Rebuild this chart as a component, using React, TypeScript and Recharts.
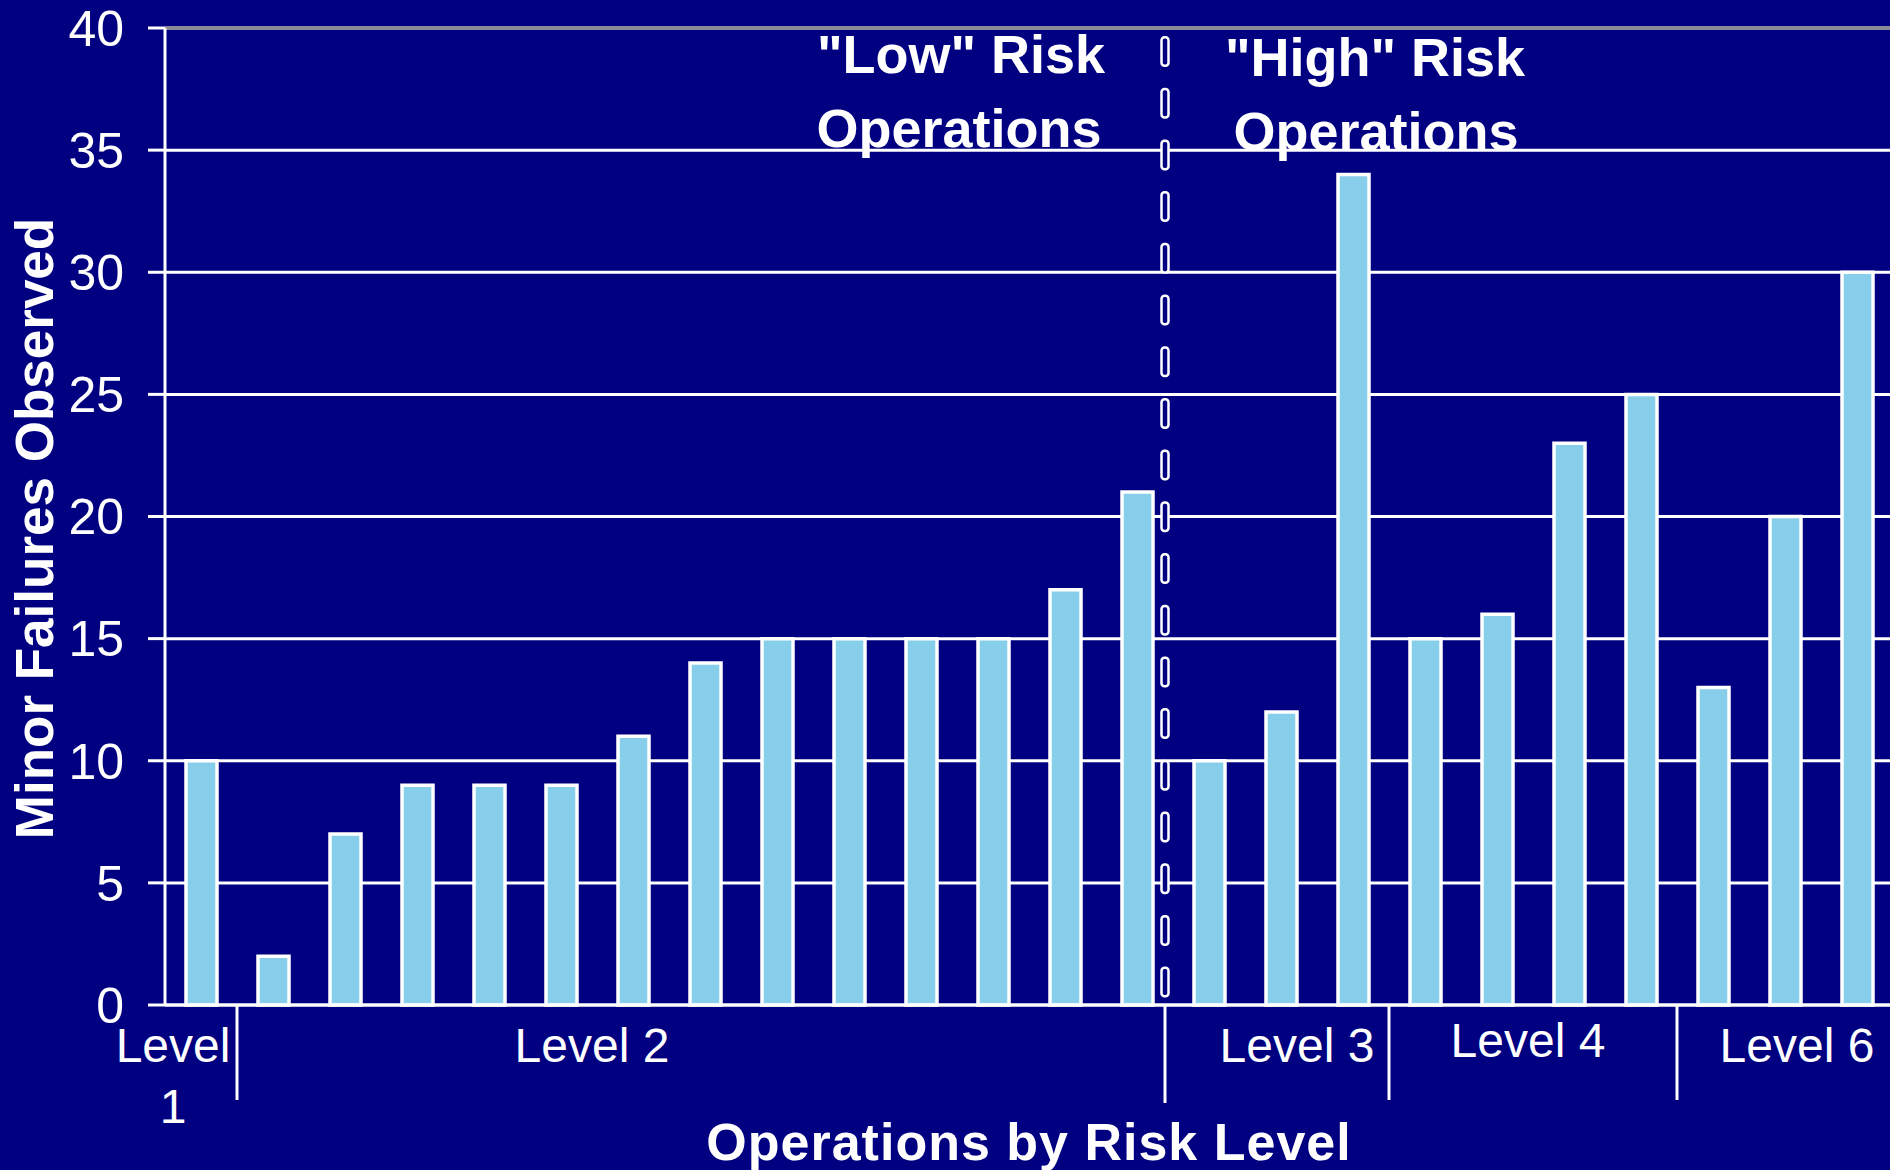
import { BarChart, Bar, XAxis, YAxis, CartesianGrid, ReferenceLine, Label } from "recharts"

// failures observed per operation, grouped by risk level
const LEVEL_1 = [10]
const LEVEL_2 = [2, 7, 9, 9, 9, 11, 14, 15, 15, 15, 15, 17, 21]
const LEVEL_3 = [10, 12, 34]
const LEVEL_4 = [15, 16, 23, 25]
const LEVEL_6 = [13, 20, 30]

const LEVEL_NAMES = ["Level 1", "Level 2", "Level 3", "Level 4", "Level 6"]
const LEVEL_RISK = ["Low", "Low", "High", "High", "High"]
const LEVEL_VALUES = [LEVEL_1, LEVEL_2, LEVEL_3, LEVEL_4, LEVEL_6]
const Y_TICKS = [0, 5, 10, 15, 20, 25, 30, 35, 40]

const data = LEVEL_VALUES.flatMap((vals, g) =>
  vals.map((v) => ({ level: LEVEL_NAMES[g], risk: LEVEL_RISK[g], failures: v }))
).map((d, i) => ({ ...d, id: `op${i + 1}` }))

const firstHigh = data.findIndex((d) => d.risk === "High")

const NAVY = "#000080"
const SKY = "#87CEEB"
const WHITE = "#FFFFFF"
const GREY = "#8C8C8C"
const FONT = "'Liberation Sans', Arial, Helvetica, sans-serif"

const W = 1893
const H = 1170
const TOP = 28
const AXIS_W = 165
const AXIS_H = 165
const BAND = (W - AXIS_W) / data.length
const SPLIT_SHIFT = -8

// hand-placed group labels under the axis
const LABEL_NUDGE: Record<string, [number, number]> = {
  "Level 1": [-28, 0],
  "Level 2": [-113, 0],
  "Level 3": [16, 0],
  "Level 4": [-5, -5],
  "Level 6": [12, 0],
}

function LevelTick({ x, y, payload }: any) {
  const i = data.findIndex((d) => d.id === payload.value)
  if (i < 0) return <g />
  const level = data[i].level
  const first = data.findIndex((d) => d.level === level)
  if (i !== first) return <g />
  const size = data.filter((d) => d.level === level).length
  const split = i > 0 && data[i - 1].risk !== data[i].risk
  const edge = x - BAND / 2 + (split ? SPLIT_SHIFT : 0)
  const [dx, dy] = LABEL_NUDGE[level] ?? [0, 0]
  const cx = x + ((size - 1) / 2) * BAND + dx
  const lines = size === 1 ? level.split(" ") : [level]
  return (
    <g>
      {i > 0 && (
        <line x1={edge} x2={edge} y1={y} y2={y + (split ? 98 : 95)} stroke={WHITE} strokeWidth={3} />
      )}
      <text x={cx} y={y + 57 + dy} textAnchor="middle" fill={WHITE} fontSize={48} fontFamily={FONT}>
        {lines.map((t, k) => (
          <tspan key={k} x={cx} dy={k === 0 ? 0 : 61}>
            {t}
          </tspan>
        ))}
      </text>
    </g>
  )
}

function RiskSplit(props: any) {
  const { x1, y1, y2 } = props
  const cx = x1 + SPLIT_SHIFT
  const top = Math.min(y1, y2)
  const bottom = Math.max(y1, y2)
  const dashes: number[] = []
  for (let y = top + 8; y + 31 <= bottom - 4; y += 51.7) dashes.push(y)
  const head = { fill: WHITE, fontSize: 54, fontWeight: 700, fontFamily: FONT, textAnchor: "middle" as const }
  return (
    <g>
      {dashes.map((y, k) => (
        <rect key={k} x={cx - 3.5} y={y + 1.25} width={7} height={28.5} rx={3}
          fill={NAVY} stroke={WHITE} strokeWidth={2.5} />
      ))}
      <text {...head} x={cx - 204} y={top + 45}>"Low" Risk</text>
      <text {...head} x={cx - 206} y={top + 119}>Operations</text>
      <text {...head} x={cx + 210} y={top + 48}>"High" Risk</text>
      <text {...head} x={cx + 211} y={top + 122}>Operations</text>
    </g>
  )
}

export default function App() {
  return (
    <div style={{ position: "fixed", left: 0, top: 0, width: 1890, height: 1170, overflow: "hidden", background: NAVY }}>
      <BarChart width={W} height={H} data={data} margin={{ top: TOP, right: 0, bottom: 0, left: 0 }}>
        <CartesianGrid vertical={false} stroke={WHITE} strokeWidth={3} />
        <XAxis
          dataKey="id"
          height={AXIS_H}
          interval={0}
          tickSize={0}
          tickMargin={0}
          tickLine={false}
          axisLine={{ stroke: WHITE, strokeWidth: 3 }}
          tick={LevelTick}
        >
          <Label
            content={({ viewBox }: any) => (
              <text x={viewBox.x + viewBox.width / 2} y={viewBox.y + 155} textAnchor="middle"
                fill={WHITE} fontSize={52} fontWeight={700} letterSpacing={1} fontFamily={FONT}>
                Operations by Risk Level
              </text>
            )}
          />
        </XAxis>
        <YAxis
          width={AXIS_W}
          domain={[0, 40]}
          ticks={Y_TICKS}
          interval={0}
          tickSize={17}
          tickMargin={24}
          axisLine={{ stroke: WHITE, strokeWidth: 3 }}
          tickLine={{ stroke: WHITE, strokeWidth: 3 }}
          tick={{ fill: WHITE, fontSize: 50, fontFamily: FONT }}
        >
          <Label
            content={({ viewBox }: any) => {
              const cy = viewBox.y + viewBox.height / 2 + 12
              return (
                <text x={53} y={cy} transform={`rotate(-90, 53, ${cy})`} textAnchor="middle"
                  fill={WHITE} fontSize={53} fontWeight={700} fontFamily={FONT}>
                  Minor Failures Observed
                </text>
              )
            }}
          />
        </YAxis>
        <ReferenceLine y={40} stroke={GREY} strokeWidth={3} />
        <Bar dataKey="failures" fill={SKY} stroke={WHITE} strokeWidth={3.5} barSize={31} isAnimationActive={false} />
        <ReferenceLine x={data[firstHigh].id} position="start" shape={RiskSplit} />
      </BarChart>
    </div>
  )
}
